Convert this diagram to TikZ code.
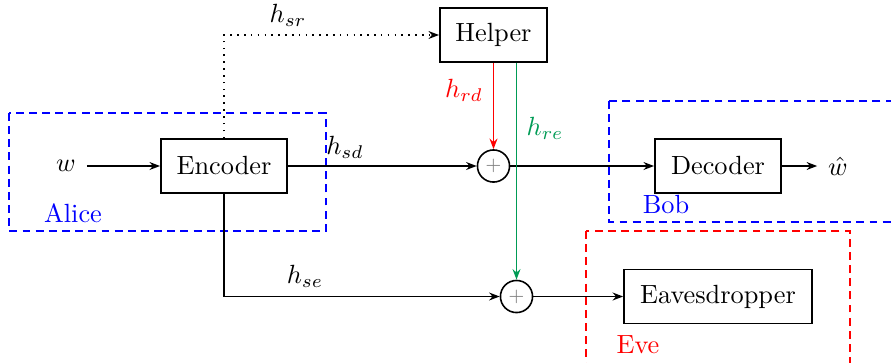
\documentclass[tikz,border=0pt]{standalone}
\usetikzlibrary{arrows.meta}
\definecolor{relaygreen}{RGB}{0,155,85}
\tikzset{
  blk/.style={draw, line width=0.7pt, minimum height=20.5pt, inner sep=0pt},
  sumnode/.style={draw, circle, line width=0.6pt, minimum size=12.2pt, inner sep=0pt, font=\scriptsize, text=gray},
  arr/.style={-{Stealth[length=4pt,width=3pt]}, line width=0.6pt},
  region/.style={dash pattern=on 3pt off 2pt, line width=0.6pt},
  io/.style={inner sep=4pt}
}
\begin{document}
\begin{tikzpicture}[x=0.38pt,y=-0.38pt]
  \clip (0,0) rectangle (891,362);

  % blocks
  \node[blk, minimum width=47.9pt] (enc) at (224,166) {Encoder};
  \node[blk, minimum width=40.7pt] (help) at (493.5,35) {Helper};
  \node[blk, minimum width=47.9pt] (dec) at (718,166) {Decoder};
  \node[blk, minimum width=71.4pt] (eve) at (718,296.5) {Eavesdropper};
  \node[sumnode] (s1) at (493.5,166) {$+$};
  \node[sumnode] (s2) at (516.5,296.5) {$+$};
  \node[io] (w) at (66,166) {$w$};
  \node[io] (wh) at (838,166) {$\hat{w}$};

  % user regions
  \draw[region, blue] (9,113) rectangle (326,231);
  \draw[region, blue] (609,101) rectangle (900,222);
  \draw[region, red] (586,231) rectangle (850,370);
  \node[blue] (alice) at (73,213) {Alice};
  \node[blue] (bob) at (666,205) {Bob};
  \node[red] (evelbl) at (638,345) {Eve};

  % links
  \draw[arr] (w) -- (enc);
  \draw[arr] (enc) -- (s1);
  \draw[arr] (s1) -- (dec);
  \draw[arr] (dec) -- (wh);
  \draw[arr] (enc.south) |- (s2);
  \draw[arr] (s2) -- (eve);
  \draw[arr, dotted] (enc.north) |- (help.west);
  \draw[arr, red] (help.south) -- (s1.north);
  \draw[arr, relaygreen] (s2 |- help.south) -- (s2.north);

  % channel gains
  \node (hsr) at (288,15) {$h_{sr}$};
  \node (hsd) at (345,147) {$h_{sd}$};
  \node (hse) at (305,276) {$h_{se}$};
  \node[red] (hrd) at (464,90) {$h_{rd}$};
  \node[relaygreen] (hre) at (545,128) {$h_{re}$};
\end{tikzpicture}
\end{document}
